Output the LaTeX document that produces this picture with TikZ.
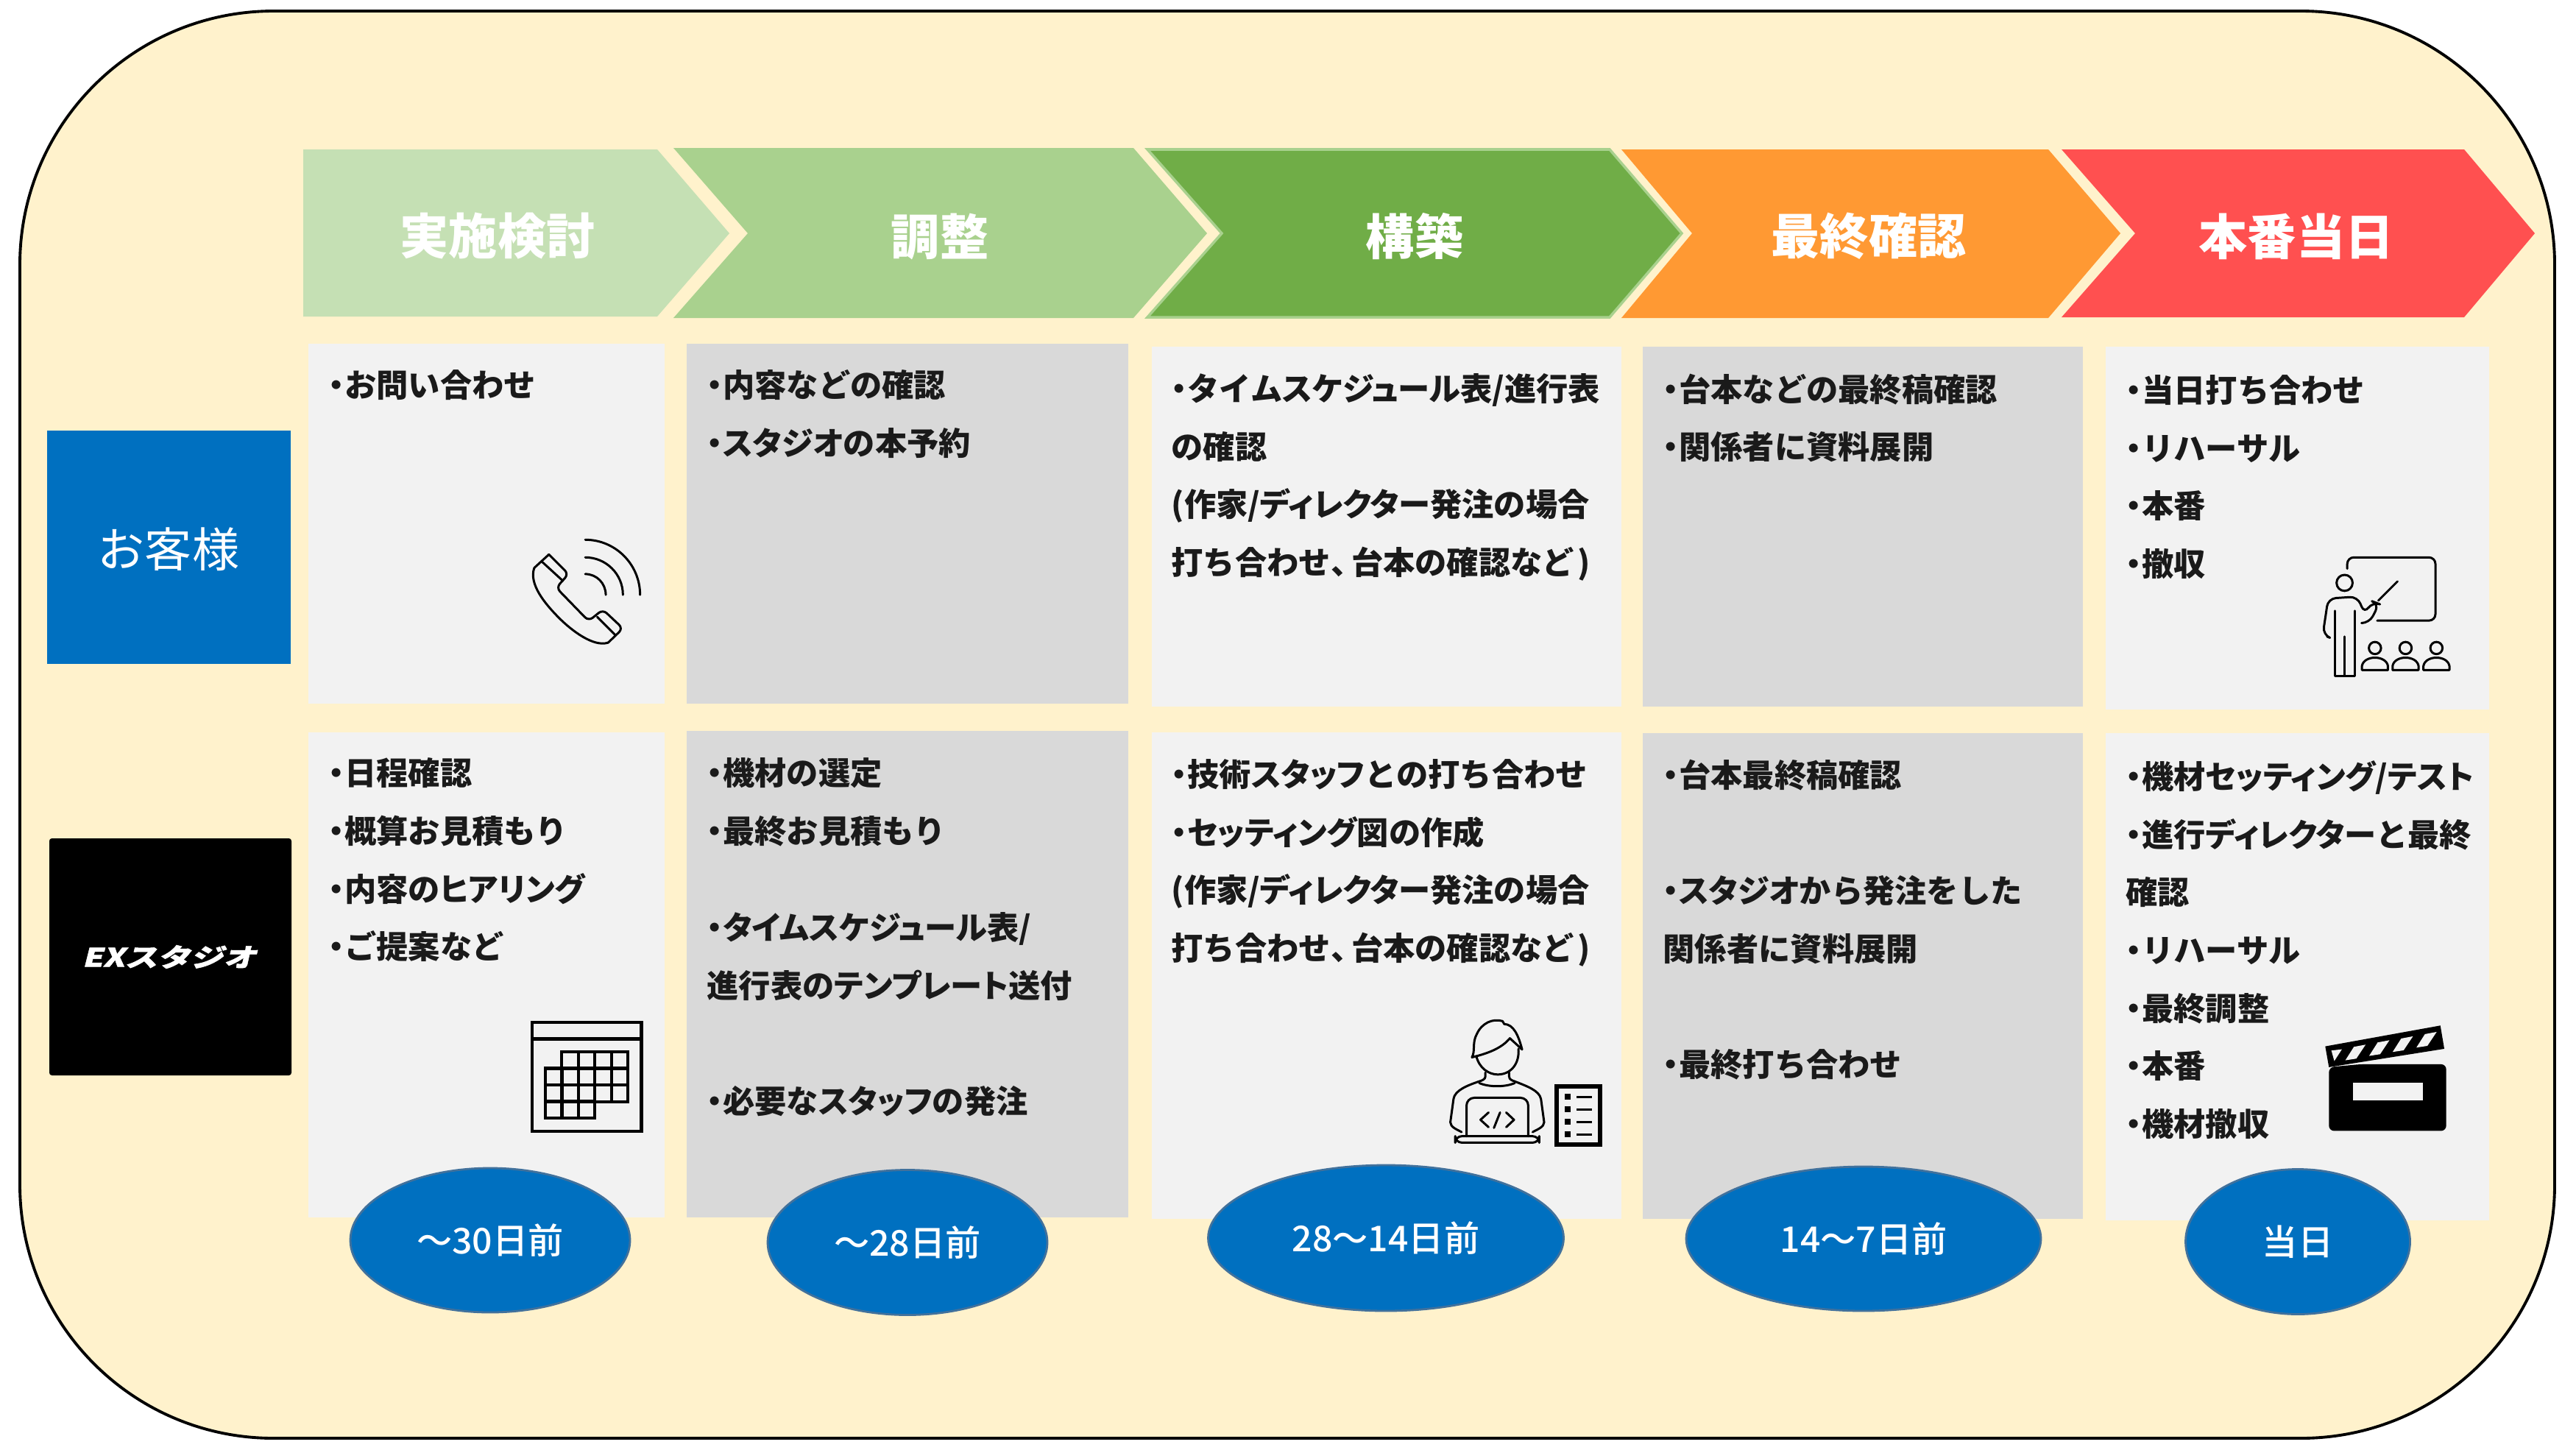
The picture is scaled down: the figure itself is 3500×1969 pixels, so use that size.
\documentclass[tikz,border=0pt]{standalone}
\usepackage{fontspec}
\setmainfont{Noto Sans CJK JP}
\newfontfamily\palfont[RawFeature=+palt]{Noto Sans CJK JP}
\newfontfamily\midfont{Noto Sans CJK JP Medium}
\newfontfamily\logofont[FakeSlant=0.25,FakeStretch=1.3,FakeBold=1.5]{Noto Sans CJK JP}
\usetikzlibrary{positioning,shapes.geometric}

\definecolor{frameyellow}{HTML}{FFF2CC}
\definecolor{brandblue}{HTML}{0070C0}
\definecolor{rimblue}{HTML}{41719C}
\definecolor{cardlight}{HTML}{F2F2F2}
\definecolor{cardgray}{HTML}{D9D9D9}
\definecolor{inkblack}{HTML}{1A1A1A}
\definecolor{stepa}{HTML}{C5E0B4}
\definecolor{stepb}{HTML}{A9D18E}
\definecolor{stepc}{HTML}{70AD47}
\definecolor{stepd}{HTML}{FF9933}
\definecolor{stepe}{HTML}{FF5050}

\newcommand{\bul}{\makebox[0.5em]{・}}
\newcommand{\ten}{\makebox[0.65em][l]{、}}
\newcommand{\kn}[1]{{\palfont\bfseries #1}}

\tikzset{
	title/.style={text=white,inner sep=0pt,font=\fontsize{18.8pt}{22pt}\selectfont\bfseries},
	side/.style={text=white,inner sep=0pt,font=\fontsize{18.2pt}{22pt}\selectfont},
	lines/.style={anchor=north west,align=left,inner sep=0pt,text=inkblack,font=\fontsize{12.3pt}{22.36pt}\selectfont\bfseries},
	badge/.style={ellipse,fill=brandblue,draw=rimblue,line width=0.8pt,inner sep=0pt,text=white,font=\midfont\fontsize{13.7pt}{16pt}\selectfont},
	zoomed/.style={x=0.003333cm,y=-0.003333cm},
	icon/.style={line width=0.85pt,line cap=round,line join=round,draw=black}
}

\begin{document}
\begin{tikzpicture}[x=0.01cm,y=-0.01cm]
\useasboundingbox (0,0) rectangle (3500,1969);

\draw[fill=frameyellow,line width=1.1pt,rounded corners=98pt] (27,15) rectangle (3471,1954);

\foreach \a/\s/\t/\n/\m/\b/\c in {
	412/893/991/412/203/430/stepa,
	915/1540/1640/1016/201/432/stepb,
	2203/2783/2881/2299/203/432/stepd,
	2801/3348/3444/2901/203/431/stepe}
	\fill[\c] (\a,\m) -- (\s,\m) -- (\t,317) -- (\s,\b) -- (\a,\b) -- (\n,317) -- cycle;
\draw[fill=stepc,draw=stepb,line width=1pt] (1559,203) -- (2187,203) -- (2285,317) -- (2187,431) -- (1559,431) -- (1660,317) -- cycle;

\foreach \x/\l/\n in {676/実施検討/tstudy,1277/調整/tadjust,1922/構築/tbuild,2539/最終確認/tfinal,3120/本番当日/tday}
	\node[title] (\n) at (\x,321) {\l};

\fill[brandblue] (64,585) rectangle (395,902);
\node[side] (client) at (229,746) {お客様};
\fill[black,rounded corners=1pt] (67,1139) rectangle (396,1461);
\node[text=white,inner sep=0pt,font=\logofont\bfseries\fontsize{9.8pt}{12pt}\selectfont] (studio) at (230,1300) {EXスタジオ};

\foreach \a/\b/\t/\m/\u/\v/\c in {
	419/903/467/956/995/1654/cardlight,
	933/1533/467/956/993/1654/cardgray,
	1565/2203/471/960/995/1656/cardlight,
	2232/2830/471/960/996/1656/cardgray,
	2861/3382/471/964/996/1658/cardlight}{
	\fill[\c] (\a,\t) rectangle (\b,\m);
	\fill[\c] (\a,\u) rectangle (\b,\v);
}

\foreach \x/\y/\n/\l in {
	446/502/ua/{\bul お問い合わせ},
	960/502/ub/{\bul 内容などの確認\\\bul \kn{スタジオ}の本予約},
	1591/507/uc/{\bul タイム\kn{スケジュール}表/進行表\\の確認\\(作家/\kn{ディレクター}発注の場合\\打ち合わせ\ten 台本の確認など\kern.1em)},
	2259/507/ud/{\bul 台本などの最終稿確認\\\bul 関係者に資料展開},
	2888/509/ue/{\bul 当日打ち合わせ\\\bul リハーサル\\\bul 本番\\\bul 撤収},
	446/1029/la/{\bul 日程確認\\\bul 概算お見積もり\\\bul 内容の\kn{ヒアリング}\\\bul ご提案など},
	960/1029/lb/{\bul 機材の選定\\\bul 最終お見積もり\\[15pt]\bul \kn{タイムスケジュール}表/\\進行表の\kn{テンプレート}送付\\[22.4pt]\bul 必要な\kn{スタッフ}の発注},
	1591/1031/lc/{\bul 技術\kn{スタッフ}との打ち合わせ\\\bul \kn{セッティング}図の作成\\(作家/\kn{ディレクター}発注の場合\\打ち合わせ\ten 台本の確認など\kern.1em)},
	2259/1031/ld/{\bul 台本最終稿確認\\[22.4pt]\bul \kn{スタジオ}から発注をした\\関係者に資料展開\\[22.4pt]\bul 最終打ち合わせ},
	2888/1033/le/{\bul 機材\kn{セッティング/テスト}\\\bul 進行\kn{ディレクター}と最終\\確認\\\bul リハーサル\\\bul 最終調整\\\bul 本番\\\bul 機材撤収}}
	\node[lines] (\n) at (\x,\y) {\l};

\begin{scope}[shift={(650,700)},zoomed,icon]
	\draw[rounded corners=2pt] (288,160) -- (368,240) -- (318,296) -- (450,432) -- (508,385) -- (590,462) -- (530,520);
	\draw (530,520) .. controls (470,540) and (380,470) .. (330,420) .. controls (270,360) and (205,280) .. (228,215);
	\draw[rounded corners=2pt] (228,215) -- (288,160);
	\draw (262,192) -- (345,268) (485,415) -- (560,490);
	\draw (436,240) to[out=0,in=90] (520,325);
	\draw (436,172) to[out=0,in=90] (590,325);
	\draw (436,100) to[out=0,in=90] (660,325);
\end{scope}

\begin{scope}[shift={(700,1360)},zoomed,line width=1.2pt]
	\draw (70,87) rectangle (515,532);
	\draw (70,155) -- (515,155);
	\foreach \x in {190,258,325,393}
		\draw (\x,208) rectangle ++(67.5,67);
	\foreach \y in {275,343}
		\foreach \x in {123,190,258,325,393}
			\draw (\x,\y) rectangle ++(67.5,67.5);
	\foreach \x in {123,190,258}
		\draw (\x,410) rectangle ++(67.5,68);
\end{scope}

\begin{scope}[shift={(1900,1350)},zoomed,icon]
	\draw (300,260) .. controls (315,235) and (300,200) .. (320,165) .. controls (340,120) and (385,100) .. (425,112) -- (432,124) .. controls (470,125) and (490,170) .. (505,228) -- (455,182) .. controls (420,225) and (360,245) .. (300,260);
	\draw (318,255) .. controls (330,305) and (370,330) .. (405,330) .. controls (460,330) and (495,285) .. (490,225);
	\draw (355,322) -- (355,338) .. controls (355,350) and (340,355) .. (330,358) .. controls (280,375) and (230,395) .. (225,430) -- (212,525) .. controls (212,545) and (240,555) .. (258,565);
	\draw (452,322) -- (452,338) .. controls (452,350) and (465,355) .. (475,358) .. controls (525,378) and (575,395) .. (582,430) -- (595,525) .. controls (595,545) and (565,555) .. (548,565);
	\draw (330,365) .. controls (370,382) and (435,382) .. (475,365);
	\draw[rounded corners=3pt] (278,582) -- (278,425) -- (530,425) -- (530,582);
	\draw[rounded corners=2.5pt] (232,582) -- (575,582) -- (575,608) -- (232,608) -- cycle;
	\draw (368,485) -- (335,515) -- (368,545) (415,485) -- (390,548) (440,485) -- (472,515) -- (440,545);
	\draw[line width=1.7pt,line cap=butt,line join=miter] (645,380) rectangle (824,616);
	\foreach \y in {422,473,524,575}{
		\fill (678,\y-12) rectangle (702,\y+12);
		\draw[line cap=butt] (728,\y) -- (790,\y);
	}
\end{scope}

\begin{scope}[shift={(3100,730)},zoomed,icon]
	\draw[rounded corners=2.5pt] (268,128) -- (268,82) -- (628,82) -- (628,340) -- (390,340);
	\node[draw,circle,inner sep=0pt,minimum size=0.66cm*0.33] (tutorhead) at (257,186) {};
	\draw[rounded corners=3pt] (185,405) -- (168,398) -- (190,250) -- (310,242) -- (338,312) -- (372,262) -- (398,272) -- (358,350) -- (332,350);
	\draw (395,258) -- (473,180);
	\draw (217,300) -- (217,565) -- (300,565) -- (300,300) (258,405) -- (258,565);
	\foreach \x/\n in {381/pupila,506/pupilb,632/pupilc}{
		\node[draw,circle,inner sep=0pt,minimum size=0.5cm*0.33] (\n) at (\x,452) {};
		\draw (\x-53,542) -- (\x-53,525) .. controls (\x-45,480) and (\x+45,480) .. (\x+53,525) -- (\x+53,542) -- cycle;
	}
\end{scope}

\begin{scope}[shift={(3120,1370)},zoomed]
	\fill[rounded corners=2pt] (133,240) -- (133,500) -- (612,500) -- (612,228) -- (262,228) -- cycle;
	\fill (118,155) -- (588,70) -- (604,165) -- (133,240) -- cycle;
	\fill[cardlight] (143,172) -- (186,167) -- (155,215) -- cycle;
	\foreach \x/\y in {200/212,297/194,393/178,490/160}
		\fill[cardlight] (\x,\y) -- (\x+35,\y-55) -- (\x+83,\y-64) -- (\x+45,\y-7) -- cycle;
	\fill[cardlight] (230,303) rectangle (516,375);
\end{scope}

\foreach \x/\y/\w/\h/\n/\l in {
	666/1685/380/196/daya/〜30日前,
	1233/1688/380/197/dayb/〜28日前,
	1883/1682/483/198/dayc/28〜14日前,
	2532/1683/482/196/dayd/14〜7日前,
	3122/1687/305/197/daye/当日}
	\node[badge,minimum width=\w*0.01cm,minimum height=\h*0.01cm] (\n) at (\x,\y) {\l};
\end{tikzpicture}
\end{document}
